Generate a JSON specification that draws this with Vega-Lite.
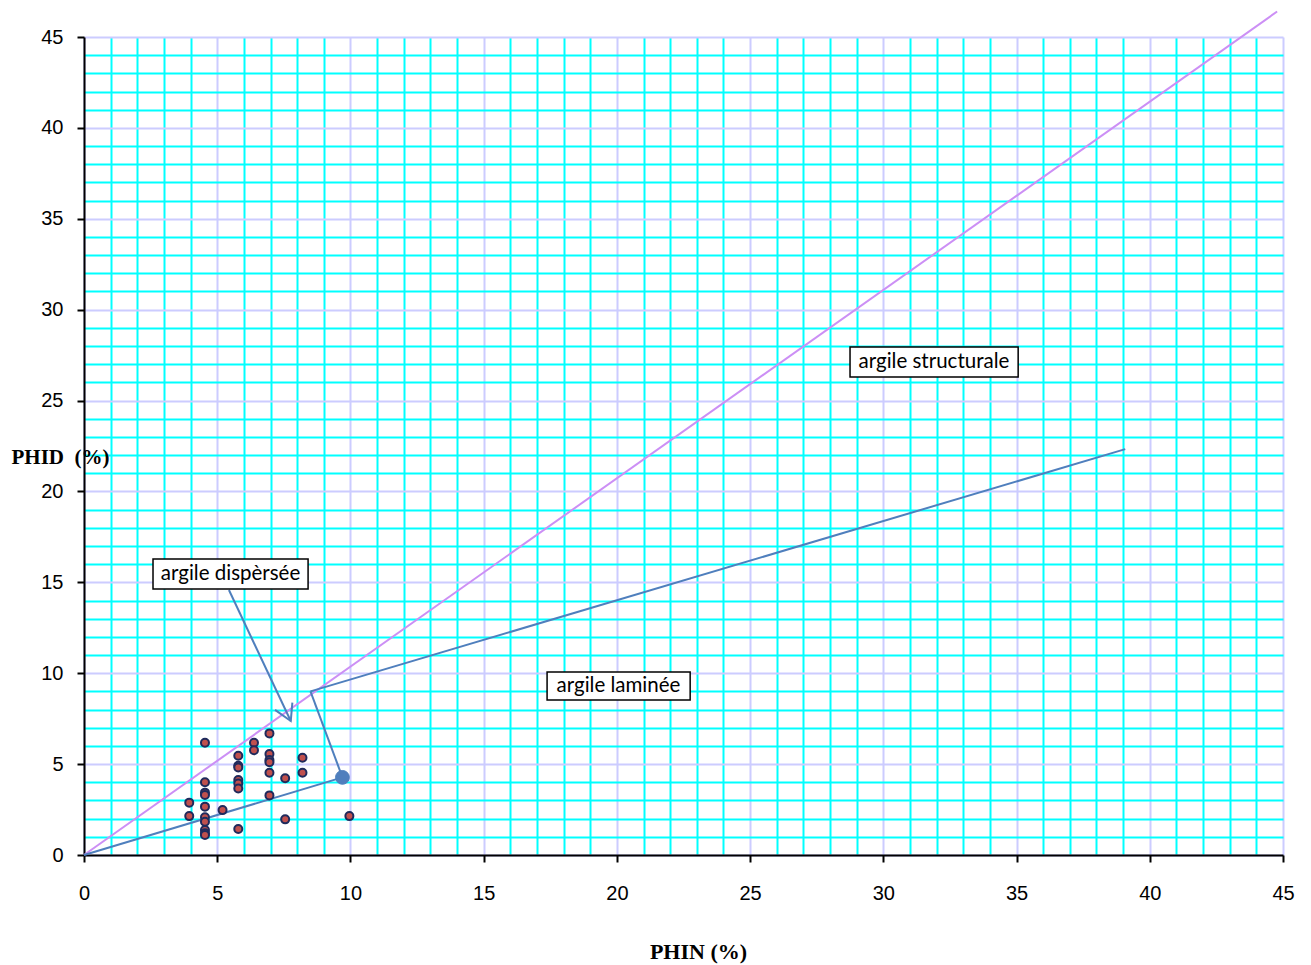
{
  "$schema": "https://vega.github.io/schema/vega-lite/v6.json",
  "width": 1199,
  "height": 818,
  "autosize": {"type": "none"},
  "padding": {"left": 84, "top": 37, "right": 28, "bottom": 110},
  "background": "white",
  "config": {"view": {"stroke": null}},
  "datasets": {
    "pts": [
      {"x": 4.54, "y": 6.18}, {"x": 6.96, "y": 6.69}, {"x": 6.38, "y": 6.18}, {"x": 6.38, "y": 5.76},
      {"x": 5.79, "y": 5.46}, {"x": 5.79, "y": 4.91}, {"x": 5.79, "y": 4.82}, {"x": 6.96, "y": 5.55},
      {"x": 6.96, "y": 5.22}, {"x": 6.96, "y": 5.1}, {"x": 8.2, "y": 5.35}, {"x": 8.2, "y": 4.52},
      {"x": 6.96, "y": 4.52}, {"x": 7.55, "y": 4.22}, {"x": 5.79, "y": 4.12}, {"x": 5.79, "y": 3.94},
      {"x": 5.79, "y": 3.66}, {"x": 4.54, "y": 4.0}, {"x": 4.54, "y": 3.43}, {"x": 4.54, "y": 3.3},
      {"x": 6.96, "y": 3.28}, {"x": 3.95, "y": 2.88}, {"x": 4.54, "y": 2.66}, {"x": 5.2, "y": 2.47},
      {"x": 3.95, "y": 2.14}, {"x": 4.54, "y": 2.07}, {"x": 4.54, "y": 1.83}, {"x": 7.55, "y": 1.96},
      {"x": 9.96, "y": 2.14}, {"x": 5.79, "y": 1.43}, {"x": 4.54, "y": 1.37}, {"x": 4.54, "y": 1.19},
      {"x": 4.54, "y": 1.1}
    ],
    "diag": [{"s": "d", "o": 0, "x": 0, "y": 0}, {"s": "d", "o": 1, "x": 44.78, "y": 46.4}],
    "blue": [
      {"s": "a", "o": 0, "x": 0, "y": 0}, {"s": "a", "o": 1, "x": 9.7, "y": 4.27},
      {"s": "b", "o": 0, "x": 8.5, "y": 9.0}, {"s": "b", "o": 1, "x": 39.08, "y": 22.33},
      {"s": "c", "o": 0, "x": 8.5, "y": 9.0}, {"s": "c", "o": 1, "x": 9.7, "y": 4.27},
      {"s": "e", "o": 0, "x": 5.44, "y": 14.58}, {"s": "e", "o": 1, "x": 7.76, "y": 7.37},
      {"s": "f", "o": 0, "x": 7.17, "y": 7.98}, {"s": "f", "o": 1, "x": 7.76, "y": 7.37}, {"s": "f", "o": 2, "x": 7.82, "y": 8.38}
    ],
    "big": [{"x": 9.7, "y": 4.27}],
    "boxes": [
      {"x": 2.59, "xe": 8.41, "y": 16.28, "ye": 14.63},
      {"x": 28.75, "xe": 35.06, "y": 27.94, "ye": 26.29},
      {"x": 17.38, "xe": 22.75, "y": 10.07, "ye": 8.53}
    ],
    "labels": [
      {"x": 5.5, "y": 15.45, "t": "argile dispèrsée"},
      {"x": 31.9, "y": 27.1, "t": "argile structurale"},
      {"x": 20.06, "y": 9.3, "t": "argile laminée"}
    ]
  },
  "encoding": {
    "x": {
      "field": "x", "type": "quantitative",
      "scale": {"domain": [0, 45], "nice": false, "zero": false},
      "axis": {
        "values": [0,1,2,3,4,5,6,7,8,9,10,11,12,13,14,15,16,17,18,19,20,21,22,23,24,25,26,27,28,29,30,31,32,33,34,35,36,37,38,39,40,41,42,43,44,45],
        "labelExpr": "datum.value % 5 === 0 ? datum.label : ''",
        "grid": true,
        "gridColor": {"condition": {"test": "datum.value % 5 === 0", "value": "#ccccff"}, "value": "#00ffff"},
        "gridWidth": 2,
        "gridOpacity": 1,
        "domainColor": "black", "domainWidth": 2,
        "tickColor": "black", "tickWidth": 2, "tickSize": 7,
        "tickOpacity": {"condition": {"test": "datum.value % 5 === 0", "value": 1}, "value": 0},
        "labelFont": "Liberation Sans", "labelFontSize": 20, "labelColor": "black", "labelPadding": 21,
        "labelFlush": false, "labelOverlap": false,
        "title": "PHIN (%)", "titleFont": "Liberation Serif", "titleFontWeight": "bold", "titleFontSize": 22,
        "titleColor": "black", "titleX": 614, "titleY": 96, "titleAlign": "center", "titleBaseline": "middle", "titleAnchor": null
      }
    },
    "y": {
      "field": "y", "type": "quantitative",
      "scale": {"domain": [0, 45], "nice": false, "zero": false},
      "axis": {
        "values": [0,1,2,3,4,5,6,7,8,9,10,11,12,13,14,15,16,17,18,19,20,21,22,23,24,25,26,27,28,29,30,31,32,33,34,35,36,37,38,39,40,41,42,43,44,45],
        "labelExpr": "datum.value % 5 === 0 ? datum.label : ''",
        "grid": true,
        "gridColor": {"condition": {"test": "datum.value % 5 === 0", "value": "#ccccff"}, "value": "#00ffff"},
        "gridWidth": 2,
        "gridOpacity": 1,
        "domainColor": "black", "domainWidth": 2,
        "tickColor": "black", "tickWidth": 2, "tickSize": 7,
        "tickOpacity": {"condition": {"test": "datum.value % 5 === 0", "value": 1}, "value": 0},
        "labelFont": "Liberation Sans", "labelFontSize": 20, "labelColor": "black", "labelPadding": 14,
        "labelFlush": false, "labelOverlap": false,
        "title": "PHID\u00a0 (%)", "titleFont": "Liberation Serif", "titleFontWeight": "bold", "titleFontSize": 21,
        "titleColor": "black", "titleAngle": 0, "titleX": -24, "titleY": 420, "titleAlign": "center", "titleBaseline": "middle", "titleAnchor": null
      }
    }
  },
  "layer": [
    {
      "data": {"name": "diag"},
      "mark": {"type": "line", "color": "#cc8ff5", "strokeWidth": 2, "clip": false},
      "encoding": {"detail": {"field": "s"}, "order": {"field": "o"}}
    },
    {
      "data": {"name": "blue"},
      "mark": {"type": "line", "color": "#4f7fbd", "strokeWidth": 2, "clip": false},
      "encoding": {"detail": {"field": "s"}, "order": {"field": "o"}}
    },
    {
      "data": {"name": "pts"},
      "mark": {"type": "point", "shape": "circle", "filled": true, "fill": "#c0504d", "stroke": "#1f2a5c", "strokeWidth": 2, "size": 64, "opacity": 1}
    },
    {
      "data": {"name": "big"},
      "mark": {"type": "point", "shape": "circle", "filled": true, "fill": "#4f7fbd", "stroke": "#4f7fbd", "strokeWidth": 1, "size": 190, "opacity": 1}
    },
    {
      "data": {"name": "boxes"},
      "mark": {"type": "rect", "fill": "white", "stroke": "black", "strokeWidth": 1.5},
      "encoding": {"x2": {"field": "xe"}, "y2": {"field": "ye"}}
    },
    {
      "data": {"name": "labels"},
      "mark": {"type": "text", "font": "Lato", "fontSize": 20.5, "color": "black", "align": "center", "baseline": "middle"},
      "encoding": {"text": {"field": "t"}}
    }
  ]
}
